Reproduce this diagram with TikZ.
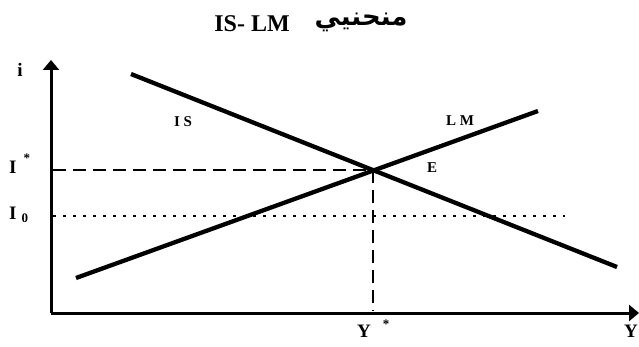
\documentclass[tikz,border=0pt]{standalone}
\usepackage{fontspec}
\setmainfont{Liberation Serif}
\newfontfamily\arabicfont[Script=Arabic]{DejaVu Sans}
\TeXXeTstate=1
\usetikzlibrary{arrows.meta}
\begin{document}
\begin{tikzpicture}[x=1pt,y=-1pt,
  axis/.style={line width=3pt,-{Triangle[length=10pt,width=16pt]}},
  curve/.style={line width=4.3pt},
  guide/.style={line width=1.4pt,dash pattern=on 13pt off 7pt},
  guidedot/.style={line width=1.4pt,dash pattern=on 3pt off 7pt},
  lab/.style={font=\fontsize{15}{17}\selectfont\bfseries,inner sep=0pt},
  biglab/.style={font=\fontsize{19}{21}\selectfont\bfseries,inner sep=0pt}]
\useasboundingbox (0,0) rectangle (639,347);
% title
\node[font=\fontsize{24}{28}\selectfont\bfseries,inner sep=0pt] (tl) at (252,24) {IS- LM};
\node[font=\arabicfont\fontsize{26}{30}\selectfont\bfseries,inner sep=0pt] (ta) at (361,22) {\beginR منحنيي\endR};
% axes
\coordinate (O) at (51,313);
\coordinate (ytop) at (51,60);
\coordinate (xend) at (639,313);
\draw[axis] (O) -- (ytop);
\draw[axis] (O) -- (xend);
% curves
\coordinate (is1) at (131,74);
\coordinate (is2) at (617,267);
\coordinate (lm1) at (76,278);
\coordinate (lm2) at (538,111);
\coordinate (E) at (373,170);
\draw[curve] (is1) -- (is2);
\draw[curve] (lm1) -- (lm2);
% guides
\coordinate (istar) at (53,170);
\coordinate (i0a) at (53,216);
\coordinate (i0b) at (565,216);
\coordinate (ystar) at (373,311);
\draw[guide] (istar) -- (E);
\draw[guide] (E) -- (ystar);
\draw[guidedot] (i0a) -- (i0b);
% labels
\node[biglab] (li) at (20,70) {i};
\node[biglab,anchor=base west] (lis) at (9,174) {I\hspace{7pt}\raisebox{0.6em}{\fontsize{13}{13}\selectfont *}};
\node[biglab,anchor=base west] (li0) at (9,220) {I\hspace{5pt}\raisebox{-0.15em}{\fontsize{13}{13}\selectfont 0}};
\node[lab] (lIS) at (183,122) {I S};
\node[lab] (lLM) at (460,121) {L M};
\node[lab] (lE) at (432,168) {E};
\node[biglab,anchor=base west] (lys) at (357,337) {Y\hspace{12pt}\raisebox{0.45em}{\fontsize{13}{13}\selectfont *}};
\node[biglab] (ly) at (631,331) {Y};
\end{tikzpicture}
\end{document}
